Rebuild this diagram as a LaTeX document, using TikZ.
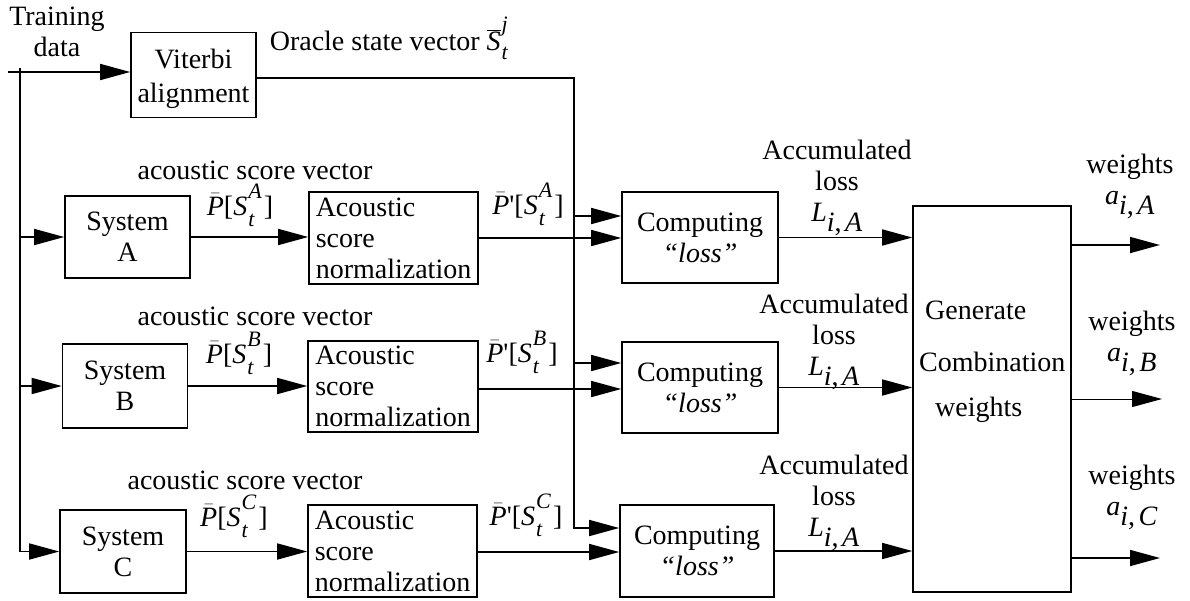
\documentclass[tikz,border=0pt]{standalone}
\usepackage{fontspec}
\setmainfont{Liberation Serif}
\usetikzlibrary{arrows.meta}
\newcommand\iv[1]{\textit{#1}}
\newcommand\rmc{\textrm{,}\,}
\newcommand\supsub[4]{{\fontsize{22}{22}\selectfont
  \setbox0\hbox{\iv{#1}}\setbox2\hbox{\iv{#2}}%
  \ifdim\wd0>\wd2 \dimen0=\wd0 \else \dimen0=\wd2 \fi
  \kern1pt\rlap{\raisebox{#3}{\box0}}\makebox[\dimen0][l]{\raisebox{#4}{\box2}}\kern2pt}}
\newcommand\Pl[1]{$\bar{\iv{P}}$[\iv{S}\supsub{#1}{t}{17pt}{-11pt}]}
\newcommand\Pp[1]{$\bar{\iv{P}}$\textquotesingle[\iv{S}\supsub{#1}{t}{17pt}{-11pt}]}
\begin{document}
\begin{tikzpicture}[x=1pt,y=-1pt,
  font=\fontsize{28}{31}\selectfont,
  box/.style={draw, line width=1.6pt, inner sep=0pt, align=center},
  lbox/.style={draw, line width=1.6pt, inner sep=0pt, align=left},
  arr/.style={-{Triangle[length=30pt,width=16pt]}, line width=1.6pt},
  thinarr/.style={-{Triangle[length=30pt,width=16pt]}, line width=1pt},
  ln/.style={line width=1.6pt},
  lbl/.style={inner sep=0pt, align=center}]
\useasboundingbox (0,0) rectangle (1190,600);

% boxes
\node[box, minimum width=125pt, minimum height=85pt] (vit) at (193.5,75) {};
\node[lbl] (vitt) at (193.5,79) {Viterbi\\[3pt]alignment};
\node[box, minimum width=125pt, minimum height=82pt] (sysA) at (127.5,237) {System\\A};
\node[box, minimum width=125pt, minimum height=84pt] (sysB) at (125,386) {System\\B};
\node[box, minimum width=126pt, minimum height=83pt] (sysC) at (123,551.5) {System\\C};
\node[lbox, minimum width=169pt, minimum height=92pt] (acA) at (393.5,238) {Acoustic\\score\\normalization};
\node[lbox, minimum width=170pt, minimum height=91pt] (acB) at (393,386.5) {Acoustic\\score\\normalization};
\node[lbox, minimum width=169pt, minimum height=92pt] (acC) at (392.5,551) {Acoustic\\score\\normalization};
\node[box, minimum width=156pt, minimum height=91pt] (cpA) at (700,237.5) {Computing\\\iv{``loss''}};
\node[box, minimum width=156pt, minimum height=91pt] (cpB) at (700,387.5) {Computing\\\iv{``loss''}};
\node[box, minimum width=154pt, minimum height=92pt] (cpC) at (697,551) {Computing\\\iv{``loss''}};
\node[box, minimum width=158pt, minimum height=386pt] (gen) at (992,399) {};
\node[lbl, anchor=west] (g1) at (925,310) {Generate};
\node[lbl, anchor=west] (g2) at (919,362) {Combination};
\node[lbl, anchor=west] (g3) at (935,410) {weights};

% labels
\node[lbl] (tr) at (57,32) {Training\\data};
\node[lbl, anchor=base] (orl) at (390,50) {Oracle state vector $\overline{\iv{S}}$\supsub{j}{t}{19pt}{-9pt}};
\node[lbl] (avA) at (255,170) {acoustic score vector};
\node[lbl] (avB) at (255,316) {acoustic score vector};
\node[lbl] (avC) at (245,480) {acoustic score vector};
\node[lbl, anchor=base] (pA) at (240,215) {\Pl{A}};
\node[lbl, anchor=base] (pB) at (239,363) {\Pl{B}};
\node[lbl, anchor=base] (pC) at (234,526) {\Pl{C}};
\node[lbl, anchor=base] (qA) at (528,214) {\Pp{A}};
\node[lbl, anchor=base] (qB) at (522,362) {\Pp{B}};
\node[lbl, anchor=base] (qC) at (526,525) {\Pp{C}};
\node[lbl] (lA) at (837,188) {Accumulated\\loss\\$\iv{L}_{\iv{i}\rmc\iv{A}}$};
\node[lbl] (lB) at (834,342) {Accumulated\\loss\\$\iv{L}_{\iv{i}\rmc\iv{A}}$};
\node[lbl] (lC) at (834,503) {Accumulated\\loss\\$\iv{L}_{\iv{i}\rmc\iv{A}}$};
\node[lbl] (wA) at (1130,186) {weights\\$\iv{a}_{\iv{i}\rmc\iv{A}}$};
\node[lbl] (wB) at (1132,343) {weights\\$\iv{a}_{\iv{i}\rmc\iv{B}}$};
\node[lbl] (wC) at (1132,497) {weights\\$\iv{a}_{\iv{i}\rmc\iv{C}}$};

% coordinates
\coordinate (tin) at (8,72);
\coordinate (ltop) at (20,68);
\coordinate (ov) at (574,78);
\coordinate (iaU) at ([yshift=21.5pt]cpA.west);
\coordinate (iaL) at ([yshift=-0.5pt]cpA.west);
\coordinate (ibU) at ([yshift=24.5pt]cpB.west);
\coordinate (ibL) at ([yshift=-1.5pt]cpB.west);
\coordinate (icU) at ([yshift=23pt]cpC.west);
\coordinate (icL) at ([yshift=-1pt]cpC.west);
\coordinate (oA) at (1160,245);
\coordinate (oB) at (1162,399);
\coordinate (oC) at (1160,558);

% connectors
\draw[arr] (tin) -- (tin -| vit.west);
\draw[arr] (ltop) |- (sysC.west);
\draw[arr] (ltop |- sysA.west) -- (sysA.west);
\draw[arr] (ltop |- sysB.west) -- (sysB.west);
\draw[arr] (sysA.east) -- (sysA.east -| acA.west);
\draw[arr] (sysB.east) -- (sysB.east -| acB.west);
\draw[arr] (sysC.east) -- (sysC.east -| acC.west);
\draw[arr] (vit.east |- ov) -- (ov) |- (icU);
\draw[arr] (ov |- iaU) -- (iaU);
\draw[arr] (ov |- ibU) -- (ibU);
\draw[arr] (acA.east |- iaL) -- (iaL);
\draw[arr] (acB.east |- ibL) -- (ibL);
\draw[arr] (acC.east |- icL) -- (icL);
\draw[arr] (cpA.east) -- (cpA.east -| gen.west);
\draw[arr] (cpB.east) -- (cpB.east -| gen.west);
\draw[arr] (cpC.east) -- (cpC.east -| gen.west);
\draw[arr] (gen.east |- oA) -- (oA);
\draw[thinarr] (gen.east |- oB) -- (oB);
\draw[arr] (gen.east |- oC) -- (oC);
\end{tikzpicture}
\end{document}
